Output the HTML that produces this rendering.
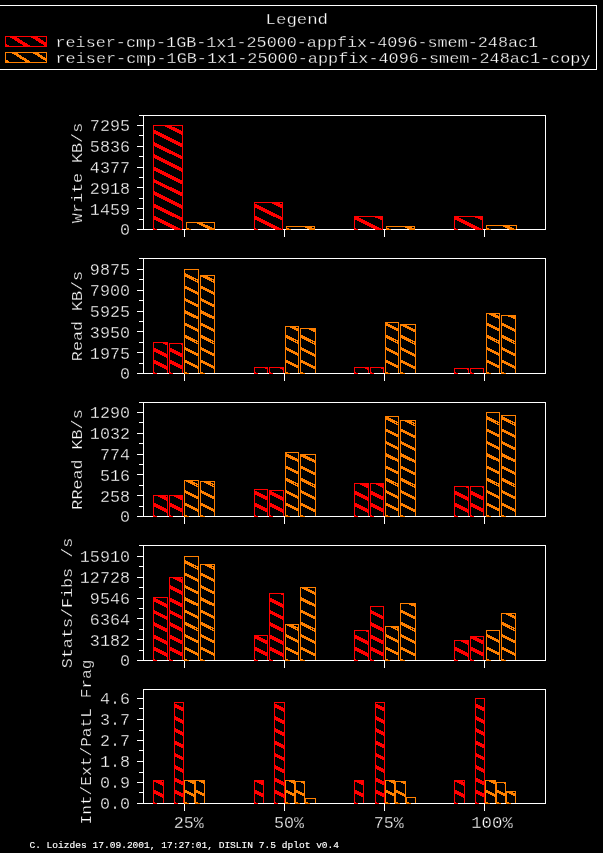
<!DOCTYPE html>
<html><head><meta charset="utf-8"><title>dplot</title>
<style>
html,body{margin:0;padding:0;background:#000;}
body{width:603px;height:853px;overflow:hidden;}
svg{display:block;}
text{font-family:"Liberation Mono", "DejaVu Sans Mono", monospace;fill:#fff;stroke:#000;stroke-width:0.3;}
.t{font-size:15.8px;}
.m{font-size:15.0px;stroke-width:0.3;}
.f{font-size:9.7px;stroke:#fff;stroke-width:0.15;}
.l{stroke:#fff;stroke-width:1;fill:none;shape-rendering:crispEdges;}
.r{stroke:#ff0000;fill:none;shape-rendering:crispEdges;}
.o{stroke:#ff8000;fill:none;shape-rendering:crispEdges;}
</style></head><body>
<svg width="603" height="853" viewBox="0 0 603 853">
<rect x="0" y="0" width="603" height="853" fill="#000"/>
<path class="l" d="M0 5.5H596.5V69.5H0"/>
<text class="m" x="296.8" y="23.5" text-anchor="middle" textLength="62.5" lengthAdjust="spacingAndGlyphs">Legend</text>
<text class="m" x="55.5" y="46.8" textLength="482.6" lengthAdjust="spacingAndGlyphs">reiser-cmp-1GB-1x1-25000-appfix-4096-smem-248ac1</text>
<text class="m" x="55.5" y="62.8" textLength="535" lengthAdjust="spacingAndGlyphs">reiser-cmp-1GB-1x1-25000-appfix-4096-smem-248ac1-copy</text>
<text class="t" x="130" y="131.3" text-anchor="end" textLength="40.12" lengthAdjust="spacingAndGlyphs">7295</text>
<text class="t" x="130" y="152.1" text-anchor="end" textLength="40.12" lengthAdjust="spacingAndGlyphs">5836</text>
<text class="t" x="130" y="172.9" text-anchor="end" textLength="40.12" lengthAdjust="spacingAndGlyphs">4377</text>
<text class="t" x="130" y="193.7" text-anchor="end" textLength="40.12" lengthAdjust="spacingAndGlyphs">2918</text>
<text class="t" x="130" y="214.5" text-anchor="end" textLength="40.12" lengthAdjust="spacingAndGlyphs">1459</text>
<text class="t" x="130" y="235.3" text-anchor="end" textLength="10.03" lengthAdjust="spacingAndGlyphs">0</text>
<text class="m" transform="translate(81.6 173) rotate(-90)" text-anchor="middle" textLength="100.3" lengthAdjust="spacingAndGlyphs">Write KB/s</text>
<text class="t" x="130" y="275.3" text-anchor="end" textLength="40.12" lengthAdjust="spacingAndGlyphs">9875</text>
<text class="t" x="130" y="296.1" text-anchor="end" textLength="40.12" lengthAdjust="spacingAndGlyphs">7900</text>
<text class="t" x="130" y="316.9" text-anchor="end" textLength="40.12" lengthAdjust="spacingAndGlyphs">5925</text>
<text class="t" x="130" y="337.7" text-anchor="end" textLength="40.12" lengthAdjust="spacingAndGlyphs">3950</text>
<text class="t" x="130" y="358.5" text-anchor="end" textLength="40.12" lengthAdjust="spacingAndGlyphs">1975</text>
<text class="t" x="130" y="379.3" text-anchor="end" textLength="10.03" lengthAdjust="spacingAndGlyphs">0</text>
<text class="m" transform="translate(81.6 316) rotate(-90)" text-anchor="middle" textLength="90.3" lengthAdjust="spacingAndGlyphs">Read KB/s</text>
<text class="t" x="130" y="418.3" text-anchor="end" textLength="40.12" lengthAdjust="spacingAndGlyphs">1290</text>
<text class="t" x="130" y="439.1" text-anchor="end" textLength="40.12" lengthAdjust="spacingAndGlyphs">1032</text>
<text class="t" x="130" y="459.9" text-anchor="end" textLength="30.09" lengthAdjust="spacingAndGlyphs">774</text>
<text class="t" x="130" y="480.7" text-anchor="end" textLength="30.09" lengthAdjust="spacingAndGlyphs">516</text>
<text class="t" x="130" y="501.5" text-anchor="end" textLength="30.09" lengthAdjust="spacingAndGlyphs">258</text>
<text class="t" x="130" y="522.3" text-anchor="end" textLength="10.03" lengthAdjust="spacingAndGlyphs">0</text>
<text class="m" transform="translate(81.6 459.5) rotate(-90)" text-anchor="middle" textLength="100.3" lengthAdjust="spacingAndGlyphs">RRead KB/s</text>
<text class="t" x="130" y="562.3" text-anchor="end" textLength="50.15" lengthAdjust="spacingAndGlyphs">15910</text>
<text class="t" x="130" y="583.1" text-anchor="end" textLength="50.15" lengthAdjust="spacingAndGlyphs">12728</text>
<text class="t" x="130" y="603.9" text-anchor="end" textLength="40.12" lengthAdjust="spacingAndGlyphs">9546</text>
<text class="t" x="130" y="624.7" text-anchor="end" textLength="40.12" lengthAdjust="spacingAndGlyphs">6364</text>
<text class="t" x="130" y="645.5" text-anchor="end" textLength="40.12" lengthAdjust="spacingAndGlyphs">3182</text>
<text class="t" x="130" y="666.3" text-anchor="end" textLength="10.03" lengthAdjust="spacingAndGlyphs">0</text>
<text class="m" transform="translate(71.6 603) rotate(-90)" text-anchor="middle" textLength="130.4" lengthAdjust="spacingAndGlyphs">Stats/Fibs /s</text>
<text class="t" x="130" y="704.3" text-anchor="end" textLength="30.09" lengthAdjust="spacingAndGlyphs">4.6</text>
<text class="t" x="130" y="725.3" text-anchor="end" textLength="30.09" lengthAdjust="spacingAndGlyphs">3.7</text>
<text class="t" x="130" y="746.3" text-anchor="end" textLength="30.09" lengthAdjust="spacingAndGlyphs">2.7</text>
<text class="t" x="130" y="767.3" text-anchor="end" textLength="30.09" lengthAdjust="spacingAndGlyphs">1.8</text>
<text class="t" x="130" y="788.3" text-anchor="end" textLength="30.09" lengthAdjust="spacingAndGlyphs">0.9</text>
<text class="t" x="130" y="809.3" text-anchor="end" textLength="30.09" lengthAdjust="spacingAndGlyphs">0.0</text>
<text class="m" transform="translate(91.4 742) rotate(-90)" text-anchor="middle" textLength="165" lengthAdjust="spacingAndGlyphs">Int/Ext/PatL Frag</text>
<rect class="r" x="5.5" y="36.5" width="41" height="10" stroke-width="1"/>
<rect class="o" x="5.5" y="52.5" width="41" height="10" stroke-width="1"/>
<rect class="r" x="153.5" y="125.5" width="29" height="104" stroke-width="1"/>
<rect class="o" x="186.5" y="222.5" width="28" height="7" stroke-width="1"/>
<rect class="r" x="254.5" y="202.5" width="28" height="27" stroke-width="1"/>
<rect class="o" x="286.5" y="226.5" width="28" height="3" stroke-width="1"/>
<rect class="r" x="354.5" y="216.5" width="28" height="13" stroke-width="1"/>
<rect class="o" x="386.5" y="226.5" width="28" height="3" stroke-width="1"/>
<rect class="r" x="454.5" y="216.5" width="28" height="13" stroke-width="1"/>
<rect class="o" x="486.5" y="225.5" width="30" height="4" stroke-width="1"/>
<rect class="r" x="153.5" y="342.5" width="14" height="31" stroke-width="1"/>
<rect class="r" x="169.5" y="343.5" width="13" height="30" stroke-width="1"/>
<rect class="o" x="184.5" y="269.5" width="14" height="104" stroke-width="1"/>
<rect class="o" x="200.5" y="275.5" width="14" height="98" stroke-width="1"/>
<rect class="r" x="254.5" y="367.5" width="13" height="6" stroke-width="1"/>
<rect class="r" x="269.5" y="367.5" width="14" height="6" stroke-width="1"/>
<rect class="o" x="285.5" y="326.5" width="13" height="47" stroke-width="1"/>
<rect class="o" x="300.5" y="328.5" width="15" height="45" stroke-width="1"/>
<rect class="r" x="354.5" y="367.5" width="14" height="6" stroke-width="1"/>
<rect class="r" x="370.5" y="367.5" width="13" height="6" stroke-width="1"/>
<rect class="o" x="385.5" y="322.5" width="13" height="51" stroke-width="1"/>
<rect class="o" x="400.5" y="324.5" width="15" height="49" stroke-width="1"/>
<rect class="r" x="454.5" y="368.5" width="14" height="5" stroke-width="1"/>
<rect class="r" x="470.5" y="368.5" width="13" height="5" stroke-width="1"/>
<rect class="o" x="486.5" y="313.5" width="13" height="60" stroke-width="1"/>
<rect class="o" x="501.5" y="315.5" width="14" height="58" stroke-width="1"/>
<rect class="r" x="153.5" y="495.5" width="14" height="21" stroke-width="1"/>
<rect class="r" x="169.5" y="495.5" width="13" height="21" stroke-width="1"/>
<rect class="o" x="184.5" y="480.5" width="14" height="36" stroke-width="1"/>
<rect class="o" x="200.5" y="481.5" width="14" height="35" stroke-width="1"/>
<rect class="r" x="254.5" y="489.5" width="13" height="27" stroke-width="1"/>
<rect class="r" x="269.5" y="490.5" width="14" height="26" stroke-width="1"/>
<rect class="o" x="285.5" y="452.5" width="13" height="64" stroke-width="1"/>
<rect class="o" x="300.5" y="454.5" width="15" height="62" stroke-width="1"/>
<rect class="r" x="354.5" y="483.5" width="14" height="33" stroke-width="1"/>
<rect class="r" x="370.5" y="483.5" width="13" height="33" stroke-width="1"/>
<rect class="o" x="385.5" y="416.5" width="13" height="100" stroke-width="1"/>
<rect class="o" x="400.5" y="420.5" width="15" height="96" stroke-width="1"/>
<rect class="r" x="454.5" y="486.5" width="14" height="30" stroke-width="1"/>
<rect class="r" x="470.5" y="486.5" width="13" height="30" stroke-width="1"/>
<rect class="o" x="486.5" y="412.5" width="13" height="104" stroke-width="1"/>
<rect class="o" x="501.5" y="415.5" width="14" height="101" stroke-width="1"/>
<rect class="r" x="153.5" y="597.5" width="14" height="63" stroke-width="1"/>
<rect class="r" x="169.5" y="577.5" width="13" height="83" stroke-width="1"/>
<rect class="o" x="184.5" y="556.5" width="14" height="104" stroke-width="1"/>
<rect class="o" x="200.5" y="564.5" width="14" height="96" stroke-width="1"/>
<rect class="r" x="254.5" y="635.5" width="13" height="25" stroke-width="1"/>
<rect class="r" x="269.5" y="593.5" width="14" height="67" stroke-width="1"/>
<rect class="o" x="285.5" y="624.5" width="13" height="36" stroke-width="1"/>
<rect class="o" x="300.5" y="587.5" width="15" height="73" stroke-width="1"/>
<rect class="r" x="354.5" y="630.5" width="14" height="30" stroke-width="1"/>
<rect class="r" x="370.5" y="606.5" width="13" height="54" stroke-width="1"/>
<rect class="o" x="385.5" y="626.5" width="13" height="34" stroke-width="1"/>
<rect class="o" x="400.5" y="603.5" width="15" height="57" stroke-width="1"/>
<rect class="r" x="454.5" y="640.5" width="14" height="20" stroke-width="1"/>
<rect class="r" x="470.5" y="636.5" width="13" height="24" stroke-width="1"/>
<rect class="o" x="486.5" y="630.5" width="13" height="30" stroke-width="1"/>
<rect class="o" x="501.5" y="613.5" width="14" height="47" stroke-width="1"/>
<rect class="r" x="153.5" y="780.5" width="10" height="23" stroke-width="1"/>
<rect class="r" x="174.5" y="702.5" width="9" height="101" stroke-width="1"/>
<rect class="o" x="184.5" y="780.5" width="10" height="23" stroke-width="1"/>
<rect class="o" x="195.5" y="780.5" width="9" height="23" stroke-width="1"/>
<rect class="r" x="254.5" y="780.5" width="9" height="23" stroke-width="1"/>
<rect class="r" x="274.5" y="702.5" width="10" height="101" stroke-width="1"/>
<rect class="o" x="285.5" y="780.5" width="9" height="23" stroke-width="1"/>
<rect class="o" x="295.5" y="781.5" width="9" height="22" stroke-width="1"/>
<rect class="o" x="305.5" y="798.5" width="10" height="5" stroke-width="1"/>
<rect class="r" x="354.5" y="780.5" width="9" height="23" stroke-width="1"/>
<rect class="r" x="375.5" y="702.5" width="9" height="101" stroke-width="1"/>
<rect class="o" x="385.5" y="780.5" width="9" height="23" stroke-width="1"/>
<rect class="o" x="395.5" y="781.5" width="10" height="22" stroke-width="1"/>
<rect class="o" x="406.5" y="797.5" width="9" height="6" stroke-width="1"/>
<rect class="r" x="454.5" y="780.5" width="10" height="23" stroke-width="1"/>
<rect class="r" x="475.5" y="698.5" width="9" height="105" stroke-width="1"/>
<rect class="o" x="485.5" y="780.5" width="10" height="23" stroke-width="1"/>
<rect class="o" x="496.5" y="782.5" width="9" height="21" stroke-width="1"/>
<rect class="o" x="506.5" y="791.5" width="9" height="12" stroke-width="1"/>
<path class="l" d="M143.5 115.5 H545.5 V229.5 H143.5 ZM137 229.5H143M139 219.5H143M137 208.5H143M139 198.5H143M137 187.5H143M139 177.5H143M137 167.5H143M139 156.5H143M137 146.5H143M139 135.5H143M137 125.5H143M139 115.5H143M184.5 230V237M284.5 230V237M384.5 230V237M484.5 230V237"/>
<path class="l" d="M143.5 258.5 H545.5 V373.5 H143.5 ZM137 373.5H143M139 363.5H143M137 352.5H143M139 342.5H143M137 331.5H143M139 321.5H143M137 311.5H143M139 300.5H143M137 290.5H143M139 279.5H143M137 269.5H143M139 258.5H143M184.5 374V381M284.5 374V381M384.5 374V381M484.5 374V381"/>
<path class="l" d="M143.5 402.5 H545.5 V516.5 H143.5 ZM137 516.5H143M139 506.5H143M137 495.5H143M139 485.5H143M137 474.5H143M139 464.5H143M137 454.5H143M139 443.5H143M137 433.5H143M139 422.5H143M137 412.5H143M139 402.5H143M184.5 517V524M284.5 517V524M384.5 517V524M484.5 517V524"/>
<path class="l" d="M143.5 545.5 H545.5 V660.5 H143.5 ZM137 660.5H143M139 650.5H143M137 639.5H143M139 629.5H143M137 618.5H143M139 608.5H143M137 598.5H143M139 587.5H143M137 577.5H143M139 566.5H143M137 556.5H143M139 545.5H143M184.5 661V668M284.5 661V668M384.5 661V668M484.5 661V668"/>
<path class="l" d="M143.5 689.5 H545.5 V803.5 H143.5 ZM137 803.5H143M139 792.5H143M137 782.5H143M139 772.5H143M137 761.5H143M139 750.5H143M137 740.5H143M139 730.5H143M137 719.5H143M139 708.5H143M137 698.5H143M184.5 804V811M284.5 804V811M384.5 804V811M484.5 804V811"/>
<clipPath id="c1"><rect x="5" y="36" width="42" height="11"/></clipPath><g clip-path="url(#c1)" class="r"><path d="M-12.13 34.50L10.45 48.50M8.87 34.50L31.45 48.50M29.87 34.50L52.45 48.50" stroke-width="3.5"/></g>
<clipPath id="c2"><rect x="5" y="52" width="42" height="11"/></clipPath><g clip-path="url(#c2)" class="o"><path d="M-12.13 48.92L10.45 62.92M-12.13 50.52L10.45 64.53M8.87 48.92L31.45 62.92M8.87 50.52L31.45 64.53M29.87 48.92L52.45 62.92M29.87 50.52L52.45 64.53" stroke-width="1.39"/></g>
<clipPath id="c3"><rect x="153" y="125" width="30" height="105"/></clipPath><g clip-path="url(#c3)" class="r"><path d="M152 229.00L184 244.84M152 216.70L184 232.54M152 204.41L184 220.25M152 192.10L184 207.94M152 179.81L184 195.65M152 167.50L184 183.34M152 155.20L184 171.04M152 142.90L184 158.74M152 130.60L184 146.44M152 118.30L184 134.15" stroke-width="3.5"/></g>
<clipPath id="c4"><rect x="186" y="222" width="29" height="8"/></clipPath><g clip-path="url(#c4)" class="o"><path d="M185 227.43L216 242.78M185 229.03L216 244.38M185 215.13L216 230.47M185 216.73L216 232.07M185 202.83L216 218.18M185 204.43L216 219.78" stroke-width="1.39"/></g>
<clipPath id="c5"><rect x="254" y="202" width="29" height="28"/></clipPath><g clip-path="url(#c5)" class="r"><path d="M253 229.00L284 244.35M253 216.70L284 232.05M253 204.41L284 219.75M253 192.10L284 207.45" stroke-width="3.5"/></g>
<clipPath id="c6"><rect x="286" y="226" width="29" height="4"/></clipPath><g clip-path="url(#c6)" class="o"><path d="M285 227.43L316 242.78M285 229.03L316 244.38M285 215.13L316 230.47M285 216.73L316 232.07" stroke-width="1.39"/></g>
<clipPath id="c7"><rect x="354" y="216" width="29" height="14"/></clipPath><g clip-path="url(#c7)" class="r"><path d="M353 229.00L384 244.35M353 216.70L384 232.05M353 204.41L384 219.75" stroke-width="3.5"/></g>
<clipPath id="c8"><rect x="386" y="226" width="29" height="4"/></clipPath><g clip-path="url(#c8)" class="o"><path d="M385 227.43L416 242.78M385 229.03L416 244.38M385 215.13L416 230.47M385 216.73L416 232.07" stroke-width="1.39"/></g>
<clipPath id="c9"><rect x="454" y="216" width="29" height="14"/></clipPath><g clip-path="url(#c9)" class="r"><path d="M453 229.00L484 244.35M453 216.70L484 232.05M453 204.41L484 219.75" stroke-width="3.5"/></g>
<clipPath id="c10"><rect x="486" y="225" width="31" height="5"/></clipPath><g clip-path="url(#c10)" class="o"><path d="M485 227.43L518 243.77M485 229.03L518 245.37M485 215.13L518 231.47M485 216.73L518 233.06" stroke-width="1.39"/></g>
<clipPath id="c11"><rect x="153" y="342" width="15" height="32"/></clipPath><g clip-path="url(#c11)" class="r"><path d="M152 373.00L169 381.42M152 360.70L169 369.12M152 348.40L169 356.82M152 336.11L169 344.52" stroke-width="3.5"/></g>
<clipPath id="c12"><rect x="169" y="343" width="14" height="31"/></clipPath><g clip-path="url(#c12)" class="r"><path d="M168 373.00L184 380.93M168 360.70L184 368.62M168 348.40L184 356.32M168 336.11L184 344.03" stroke-width="3.5"/></g>
<clipPath id="c13"><rect x="184" y="269" width="15" height="105"/></clipPath><g clip-path="url(#c13)" class="o"><path d="M183 371.43L200 379.85M183 373.03L200 381.44M183 359.13L200 367.55M183 360.73L200 369.14M183 346.83L200 355.25M183 348.43L200 356.84M183 334.53L200 342.95M183 336.13L200 344.55M183 322.23L200 330.65M183 323.83L200 332.25M183 309.93L200 318.35M183 311.53L200 319.94M183 297.63L200 306.05M183 299.23L200 307.64M183 285.33L200 293.75M183 286.93L200 295.34M183 273.03L200 281.45M183 274.63L200 283.05M183 260.73L200 269.15M183 262.33L200 270.75" stroke-width="1.39"/></g>
<clipPath id="c14"><rect x="200" y="275" width="15" height="99"/></clipPath><g clip-path="url(#c14)" class="o"><path d="M199 371.43L216 379.85M199 373.03L216 381.44M199 359.13L216 367.55M199 360.73L216 369.14M199 346.83L216 355.25M199 348.43L216 356.84M199 334.53L216 342.95M199 336.13L216 344.55M199 322.23L216 330.65M199 323.83L216 332.25M199 309.93L216 318.35M199 311.53L216 319.94M199 297.63L216 306.05M199 299.23L216 307.64M199 285.33L216 293.75M199 286.93L216 295.34M199 273.03L216 281.45M199 274.63L216 283.05" stroke-width="1.39"/></g>
<clipPath id="c15"><rect x="254" y="367" width="14" height="7"/></clipPath><g clip-path="url(#c15)" class="r"><path d="M253 373.00L269 380.93M253 360.70L269 368.62" stroke-width="3.5"/></g>
<clipPath id="c16"><rect x="269" y="367" width="15" height="7"/></clipPath><g clip-path="url(#c16)" class="r"><path d="M268 373.00L285 381.42M268 360.70L285 369.12" stroke-width="3.5"/></g>
<clipPath id="c17"><rect x="285" y="326" width="14" height="48"/></clipPath><g clip-path="url(#c17)" class="o"><path d="M284 371.43L300 379.35M284 373.03L300 380.95M284 359.13L300 367.05M284 360.73L300 368.65M284 346.83L300 354.75M284 348.43L300 356.35M284 334.53L300 342.45M284 336.13L300 344.05M284 322.23L300 330.15M284 323.83L300 331.75" stroke-width="1.39"/></g>
<clipPath id="c18"><rect x="300" y="328" width="16" height="46"/></clipPath><g clip-path="url(#c18)" class="o"><path d="M299 371.43L317 380.34M299 373.03L317 381.94M299 359.13L317 368.04M299 360.73L317 369.64M299 346.83L317 355.74M299 348.43L317 357.34M299 334.53L317 343.44M299 336.13L317 345.04M299 322.23L317 331.14M299 323.83L317 332.74" stroke-width="1.39"/></g>
<clipPath id="c19"><rect x="354" y="367" width="15" height="7"/></clipPath><g clip-path="url(#c19)" class="r"><path d="M353 373.00L370 381.42M353 360.70L370 369.12" stroke-width="3.5"/></g>
<clipPath id="c20"><rect x="370" y="367" width="14" height="7"/></clipPath><g clip-path="url(#c20)" class="r"><path d="M369 373.00L385 380.93M369 360.70L385 368.62" stroke-width="3.5"/></g>
<clipPath id="c21"><rect x="385" y="322" width="14" height="52"/></clipPath><g clip-path="url(#c21)" class="o"><path d="M384 371.43L400 379.35M384 373.03L400 380.95M384 359.13L400 367.05M384 360.73L400 368.65M384 346.83L400 354.75M384 348.43L400 356.35M384 334.53L400 342.45M384 336.13L400 344.05M384 322.23L400 330.15M384 323.83L400 331.75" stroke-width="1.39"/></g>
<clipPath id="c22"><rect x="400" y="324" width="16" height="50"/></clipPath><g clip-path="url(#c22)" class="o"><path d="M399 371.43L417 380.34M399 373.03L417 381.94M399 359.13L417 368.04M399 360.73L417 369.64M399 346.83L417 355.74M399 348.43L417 357.34M399 334.53L417 343.44M399 336.13L417 345.04M399 322.23L417 331.14M399 323.83L417 332.74" stroke-width="1.39"/></g>
<clipPath id="c23"><rect x="454" y="368" width="15" height="6"/></clipPath><g clip-path="url(#c23)" class="r"><path d="M453 373.00L470 381.42M453 360.70L470 369.12" stroke-width="3.5"/></g>
<clipPath id="c24"><rect x="470" y="368" width="14" height="6"/></clipPath><g clip-path="url(#c24)" class="r"><path d="M469 373.00L485 380.93M469 360.70L485 368.62" stroke-width="3.5"/></g>
<clipPath id="c25"><rect x="486" y="313" width="14" height="61"/></clipPath><g clip-path="url(#c25)" class="o"><path d="M485 371.43L501 379.35M485 373.03L501 380.95M485 359.13L501 367.05M485 360.73L501 368.65M485 346.83L501 354.75M485 348.43L501 356.35M485 334.53L501 342.45M485 336.13L501 344.05M485 322.23L501 330.15M485 323.83L501 331.75M485 309.93L501 317.85M485 311.53L501 319.45" stroke-width="1.39"/></g>
<clipPath id="c26"><rect x="501" y="315" width="15" height="59"/></clipPath><g clip-path="url(#c26)" class="o"><path d="M500 371.43L517 379.85M500 373.03L517 381.44M500 359.13L517 367.55M500 360.73L517 369.14M500 346.83L517 355.25M500 348.43L517 356.84M500 334.53L517 342.95M500 336.13L517 344.55M500 322.23L517 330.65M500 323.83L517 332.25M500 309.93L517 318.35M500 311.53L517 319.94" stroke-width="1.39"/></g>
<clipPath id="c27"><rect x="153" y="495" width="15" height="22"/></clipPath><g clip-path="url(#c27)" class="r"><path d="M152 516.00L169 524.42M152 503.70L169 512.12M152 491.40L169 499.82" stroke-width="3.5"/></g>
<clipPath id="c28"><rect x="169" y="495" width="14" height="22"/></clipPath><g clip-path="url(#c28)" class="r"><path d="M168 516.00L184 523.92M168 503.70L184 511.62M168 491.40L184 499.32" stroke-width="3.5"/></g>
<clipPath id="c29"><rect x="184" y="480" width="15" height="37"/></clipPath><g clip-path="url(#c29)" class="o"><path d="M183 514.43L200 522.84M183 516.03L200 524.44M183 502.13L200 510.55M183 503.73L200 512.14M183 489.83L200 498.25M183 491.43L200 499.84M183 477.53L200 485.95M183 479.13L200 487.55" stroke-width="1.39"/></g>
<clipPath id="c30"><rect x="200" y="481" width="15" height="36"/></clipPath><g clip-path="url(#c30)" class="o"><path d="M199 514.43L216 522.84M199 516.03L216 524.44M199 502.13L216 510.55M199 503.73L216 512.14M199 489.83L216 498.25M199 491.43L216 499.84M199 477.53L216 485.95M199 479.13L216 487.55" stroke-width="1.39"/></g>
<clipPath id="c31"><rect x="254" y="489" width="14" height="28"/></clipPath><g clip-path="url(#c31)" class="r"><path d="M253 516.00L269 523.92M253 503.70L269 511.62M253 491.40L269 499.32M253 479.11L269 487.03" stroke-width="3.5"/></g>
<clipPath id="c32"><rect x="269" y="490" width="15" height="27"/></clipPath><g clip-path="url(#c32)" class="r"><path d="M268 516.00L285 524.42M268 503.70L285 512.12M268 491.40L285 499.82M268 479.11L285 487.52" stroke-width="3.5"/></g>
<clipPath id="c33"><rect x="285" y="452" width="14" height="65"/></clipPath><g clip-path="url(#c33)" class="o"><path d="M284 514.43L300 522.35M284 516.03L300 523.95M284 502.13L300 510.05M284 503.73L300 511.65M284 489.83L300 497.75M284 491.43L300 499.35M284 477.53L300 485.45M284 479.13L300 487.05M284 465.23L300 473.15M284 466.83L300 474.75M284 452.93L300 460.85M284 454.53L300 462.45M284 440.63L300 448.55M284 442.23L300 450.15" stroke-width="1.39"/></g>
<clipPath id="c34"><rect x="300" y="454" width="16" height="63"/></clipPath><g clip-path="url(#c34)" class="o"><path d="M299 514.43L317 523.34M299 516.03L317 524.94M299 502.13L317 511.04M299 503.73L317 512.64M299 489.83L317 498.74M299 491.43L317 500.34M299 477.53L317 486.44M299 479.13L317 488.04M299 465.23L317 474.14M299 466.83L317 475.74M299 452.93L317 461.84M299 454.53L317 463.44" stroke-width="1.39"/></g>
<clipPath id="c35"><rect x="354" y="483" width="15" height="34"/></clipPath><g clip-path="url(#c35)" class="r"><path d="M353 516.00L370 524.42M353 503.70L370 512.12M353 491.40L370 499.82M353 479.11L370 487.52" stroke-width="3.5"/></g>
<clipPath id="c36"><rect x="370" y="483" width="14" height="34"/></clipPath><g clip-path="url(#c36)" class="r"><path d="M369 516.00L385 523.92M369 503.70L385 511.62M369 491.40L385 499.32M369 479.11L385 487.03" stroke-width="3.5"/></g>
<clipPath id="c37"><rect x="385" y="416" width="14" height="101"/></clipPath><g clip-path="url(#c37)" class="o"><path d="M384 514.43L400 522.35M384 516.03L400 523.95M384 502.13L400 510.05M384 503.73L400 511.65M384 489.83L400 497.75M384 491.43L400 499.35M384 477.53L400 485.45M384 479.13L400 487.05M384 465.23L400 473.15M384 466.83L400 474.75M384 452.93L400 460.85M384 454.53L400 462.45M384 440.63L400 448.55M384 442.23L400 450.15M384 428.33L400 436.25M384 429.93L400 437.85M384 416.03L400 423.95M384 417.63L400 425.55" stroke-width="1.39"/></g>
<clipPath id="c38"><rect x="400" y="420" width="16" height="97"/></clipPath><g clip-path="url(#c38)" class="o"><path d="M399 514.43L417 523.34M399 516.03L417 524.94M399 502.13L417 511.04M399 503.73L417 512.64M399 489.83L417 498.74M399 491.43L417 500.34M399 477.53L417 486.44M399 479.13L417 488.04M399 465.23L417 474.14M399 466.83L417 475.74M399 452.93L417 461.84M399 454.53L417 463.44M399 440.63L417 449.54M399 442.23L417 451.14M399 428.33L417 437.24M399 429.93L417 438.84M399 416.03L417 424.94M399 417.63L417 426.54" stroke-width="1.39"/></g>
<clipPath id="c39"><rect x="454" y="486" width="15" height="31"/></clipPath><g clip-path="url(#c39)" class="r"><path d="M453 516.00L470 524.42M453 503.70L470 512.12M453 491.40L470 499.82M453 479.11L470 487.52" stroke-width="3.5"/></g>
<clipPath id="c40"><rect x="470" y="486" width="14" height="31"/></clipPath><g clip-path="url(#c40)" class="r"><path d="M469 516.00L485 523.92M469 503.70L485 511.62M469 491.40L485 499.32M469 479.11L485 487.03" stroke-width="3.5"/></g>
<clipPath id="c41"><rect x="486" y="412" width="14" height="105"/></clipPath><g clip-path="url(#c41)" class="o"><path d="M485 514.43L501 522.35M485 516.03L501 523.95M485 502.13L501 510.05M485 503.73L501 511.65M485 489.83L501 497.75M485 491.43L501 499.35M485 477.53L501 485.45M485 479.13L501 487.05M485 465.23L501 473.15M485 466.83L501 474.75M485 452.93L501 460.85M485 454.53L501 462.45M485 440.63L501 448.55M485 442.23L501 450.15M485 428.33L501 436.25M485 429.93L501 437.85M485 416.03L501 423.95M485 417.63L501 425.55M485 403.73L501 411.65M485 405.33L501 413.25" stroke-width="1.39"/></g>
<clipPath id="c42"><rect x="501" y="415" width="15" height="102"/></clipPath><g clip-path="url(#c42)" class="o"><path d="M500 514.43L517 522.84M500 516.03L517 524.44M500 502.13L517 510.55M500 503.73L517 512.14M500 489.83L517 498.25M500 491.43L517 499.84M500 477.53L517 485.95M500 479.13L517 487.55M500 465.23L517 473.65M500 466.83L517 475.25M500 452.93L517 461.35M500 454.53L517 462.94M500 440.63L517 449.05M500 442.23L517 450.64M500 428.33L517 436.75M500 429.93L517 438.34M500 416.03L517 424.45M500 417.63L517 426.05M500 403.73L517 412.15M500 405.33L517 413.75" stroke-width="1.39"/></g>
<clipPath id="c43"><rect x="153" y="597" width="15" height="64"/></clipPath><g clip-path="url(#c43)" class="r"><path d="M152 660.00L169 668.42M152 647.71L169 656.12M152 635.40L169 643.82M152 623.11L169 631.52M152 610.80L169 619.22M152 598.50L169 606.92M152 586.21L169 594.62" stroke-width="3.5"/></g>
<clipPath id="c44"><rect x="169" y="577" width="14" height="84"/></clipPath><g clip-path="url(#c44)" class="r"><path d="M168 660.00L184 667.92M168 647.71L184 655.62M168 635.40L184 643.32M168 623.11L184 631.02M168 610.80L184 618.72M168 598.50L184 606.42M168 586.21L184 594.12M168 573.90L184 581.82" stroke-width="3.5"/></g>
<clipPath id="c45"><rect x="184" y="556" width="15" height="105"/></clipPath><g clip-path="url(#c45)" class="o"><path d="M183 658.43L200 666.84M183 660.03L200 668.44M183 646.13L200 654.54M183 647.73L200 656.14M183 633.83L200 642.24M183 635.43L200 643.84M183 621.53L200 629.94M183 623.13L200 631.54M183 609.23L200 617.64M183 610.83L200 619.24M183 596.93L200 605.34M183 598.53L200 606.94M183 584.63L200 593.04M183 586.23L200 594.64M183 572.33L200 580.74M183 573.93L200 582.34M183 560.03L200 568.44M183 561.63L200 570.04M183 547.73L200 556.14M183 549.33L200 557.74" stroke-width="1.39"/></g>
<clipPath id="c46"><rect x="200" y="564" width="15" height="97"/></clipPath><g clip-path="url(#c46)" class="o"><path d="M199 658.43L216 666.84M199 660.03L216 668.44M199 646.13L216 654.54M199 647.73L216 656.14M199 633.83L216 642.24M199 635.43L216 643.84M199 621.53L216 629.94M199 623.13L216 631.54M199 609.23L216 617.64M199 610.83L216 619.24M199 596.93L216 605.34M199 598.53L216 606.94M199 584.63L216 593.04M199 586.23L216 594.64M199 572.33L216 580.74M199 573.93L216 582.34M199 560.03L216 568.44M199 561.63L216 570.04" stroke-width="1.39"/></g>
<clipPath id="c47"><rect x="254" y="635" width="14" height="26"/></clipPath><g clip-path="url(#c47)" class="r"><path d="M253 660.00L269 667.92M253 647.71L269 655.62M253 635.40L269 643.32" stroke-width="3.5"/></g>
<clipPath id="c48"><rect x="269" y="593" width="15" height="68"/></clipPath><g clip-path="url(#c48)" class="r"><path d="M268 660.00L285 668.42M268 647.71L285 656.12M268 635.40L285 643.82M268 623.11L285 631.52M268 610.80L285 619.22M268 598.50L285 606.92M268 586.21L285 594.62" stroke-width="3.5"/></g>
<clipPath id="c49"><rect x="285" y="624" width="14" height="37"/></clipPath><g clip-path="url(#c49)" class="o"><path d="M284 658.43L300 666.35M284 660.03L300 667.95M284 646.13L300 654.05M284 647.73L300 655.65M284 633.83L300 641.75M284 635.43L300 643.35M284 621.53L300 629.45M284 623.13L300 631.05" stroke-width="1.39"/></g>
<clipPath id="c50"><rect x="300" y="587" width="16" height="74"/></clipPath><g clip-path="url(#c50)" class="o"><path d="M299 658.43L317 667.34M299 660.03L317 668.94M299 646.13L317 655.04M299 647.73L317 656.64M299 633.83L317 642.74M299 635.43L317 644.34M299 621.53L317 630.44M299 623.13L317 632.04M299 609.23L317 618.14M299 610.83L317 619.74M299 596.93L317 605.84M299 598.53L317 607.44M299 584.63L317 593.54M299 586.23L317 595.14" stroke-width="1.39"/></g>
<clipPath id="c51"><rect x="354" y="630" width="15" height="31"/></clipPath><g clip-path="url(#c51)" class="r"><path d="M353 660.00L370 668.42M353 647.71L370 656.12M353 635.40L370 643.82M353 623.11L370 631.52" stroke-width="3.5"/></g>
<clipPath id="c52"><rect x="370" y="606" width="14" height="55"/></clipPath><g clip-path="url(#c52)" class="r"><path d="M369 660.00L385 667.92M369 647.71L385 655.62M369 635.40L385 643.32M369 623.11L385 631.02M369 610.80L385 618.72M369 598.50L385 606.42" stroke-width="3.5"/></g>
<clipPath id="c53"><rect x="385" y="626" width="14" height="35"/></clipPath><g clip-path="url(#c53)" class="o"><path d="M384 658.43L400 666.35M384 660.03L400 667.95M384 646.13L400 654.05M384 647.73L400 655.65M384 633.83L400 641.75M384 635.43L400 643.35M384 621.53L400 629.45M384 623.13L400 631.05" stroke-width="1.39"/></g>
<clipPath id="c54"><rect x="400" y="603" width="16" height="58"/></clipPath><g clip-path="url(#c54)" class="o"><path d="M399 658.43L417 667.34M399 660.03L417 668.94M399 646.13L417 655.04M399 647.73L417 656.64M399 633.83L417 642.74M399 635.43L417 644.34M399 621.53L417 630.44M399 623.13L417 632.04M399 609.23L417 618.14M399 610.83L417 619.74M399 596.93L417 605.84M399 598.53L417 607.44" stroke-width="1.39"/></g>
<clipPath id="c55"><rect x="454" y="640" width="15" height="21"/></clipPath><g clip-path="url(#c55)" class="r"><path d="M453 660.00L470 668.42M453 647.71L470 656.12M453 635.40L470 643.82" stroke-width="3.5"/></g>
<clipPath id="c56"><rect x="470" y="636" width="14" height="25"/></clipPath><g clip-path="url(#c56)" class="r"><path d="M469 660.00L485 667.92M469 647.71L485 655.62M469 635.40L485 643.32" stroke-width="3.5"/></g>
<clipPath id="c57"><rect x="486" y="630" width="14" height="31"/></clipPath><g clip-path="url(#c57)" class="o"><path d="M485 658.43L501 666.35M485 660.03L501 667.95M485 646.13L501 654.05M485 647.73L501 655.65M485 633.83L501 641.75M485 635.43L501 643.35M485 621.53L501 629.45M485 623.13L501 631.05" stroke-width="1.39"/></g>
<clipPath id="c58"><rect x="501" y="613" width="15" height="48"/></clipPath><g clip-path="url(#c58)" class="o"><path d="M500 658.43L517 666.84M500 660.03L517 668.44M500 646.13L517 654.54M500 647.73L517 656.14M500 633.83L517 642.24M500 635.43L517 643.84M500 621.53L517 629.94M500 623.13L517 631.54M500 609.23L517 617.64M500 610.83L517 619.24" stroke-width="1.39"/></g>
<clipPath id="c59"><rect x="153" y="780" width="11" height="24"/></clipPath><g clip-path="url(#c59)" class="r"><path d="M152 803.00L165 809.44M152 790.71L165 797.14M152 778.40L165 784.84" stroke-width="3.5"/></g>
<clipPath id="c60"><rect x="174" y="702" width="10" height="102"/></clipPath><g clip-path="url(#c60)" class="r"><path d="M173 803.00L185 808.95M173 790.71L185 796.65M173 778.40L185 784.35M173 766.11L185 772.05M173 753.80L185 759.75M173 741.50L185 747.45M173 729.21L185 735.15M173 716.90L185 722.85M173 704.61L185 710.55" stroke-width="3.5"/></g>
<clipPath id="c61"><rect x="184" y="780" width="11" height="24"/></clipPath><g clip-path="url(#c61)" class="o"><path d="M183 801.43L196 807.87M183 803.03L196 809.47M183 789.13L196 795.57M183 790.73L196 797.17M183 776.83L196 783.26M183 778.43L196 784.87" stroke-width="1.39"/></g>
<clipPath id="c62"><rect x="195" y="780" width="10" height="24"/></clipPath><g clip-path="url(#c62)" class="o"><path d="M194 801.43L206 807.37M194 803.03L206 808.97M194 789.13L206 795.07M194 790.73L206 796.67M194 776.83L206 782.77M194 778.43L206 784.37" stroke-width="1.39"/></g>
<clipPath id="c63"><rect x="254" y="780" width="10" height="24"/></clipPath><g clip-path="url(#c63)" class="r"><path d="M253 803.00L265 808.95M253 790.71L265 796.65M253 778.40L265 784.35" stroke-width="3.5"/></g>
<clipPath id="c64"><rect x="274" y="702" width="11" height="102"/></clipPath><g clip-path="url(#c64)" class="r"><path d="M273 803.00L286 809.44M273 790.71L286 797.14M273 778.40L286 784.84M273 766.11L286 772.54M273 753.80L286 760.24M273 741.50L286 747.94M273 729.21L286 735.64M273 716.90L286 723.34M273 704.61L286 711.04" stroke-width="3.5"/></g>
<clipPath id="c65"><rect x="285" y="780" width="10" height="24"/></clipPath><g clip-path="url(#c65)" class="o"><path d="M284 801.43L296 807.37M284 803.03L296 808.97M284 789.13L296 795.07M284 790.73L296 796.67M284 776.83L296 782.77M284 778.43L296 784.37" stroke-width="1.39"/></g>
<clipPath id="c66"><rect x="295" y="781" width="10" height="23"/></clipPath><g clip-path="url(#c66)" class="o"><path d="M294 801.43L306 807.37M294 803.03L306 808.97M294 789.13L306 795.07M294 790.73L306 796.67M294 776.83L306 782.77M294 778.43L306 784.37" stroke-width="1.39"/></g>
<clipPath id="c67"><rect x="305" y="798" width="11" height="6"/></clipPath><g clip-path="url(#c67)" class="o"><path d="M304 801.43L317 807.87M304 803.03L317 809.47M304 789.13L317 795.57M304 790.73L317 797.17" stroke-width="1.39"/></g>
<clipPath id="c68"><rect x="354" y="780" width="10" height="24"/></clipPath><g clip-path="url(#c68)" class="r"><path d="M353 803.00L365 808.95M353 790.71L365 796.65M353 778.40L365 784.35" stroke-width="3.5"/></g>
<clipPath id="c69"><rect x="375" y="702" width="10" height="102"/></clipPath><g clip-path="url(#c69)" class="r"><path d="M374 803.00L386 808.95M374 790.71L386 796.65M374 778.40L386 784.35M374 766.11L386 772.05M374 753.80L386 759.75M374 741.50L386 747.45M374 729.21L386 735.15M374 716.90L386 722.85M374 704.61L386 710.55" stroke-width="3.5"/></g>
<clipPath id="c70"><rect x="385" y="780" width="10" height="24"/></clipPath><g clip-path="url(#c70)" class="o"><path d="M384 801.43L396 807.37M384 803.03L396 808.97M384 789.13L396 795.07M384 790.73L396 796.67M384 776.83L396 782.77M384 778.43L396 784.37" stroke-width="1.39"/></g>
<clipPath id="c71"><rect x="395" y="781" width="11" height="23"/></clipPath><g clip-path="url(#c71)" class="o"><path d="M394 801.43L407 807.87M394 803.03L407 809.47M394 789.13L407 795.57M394 790.73L407 797.17M394 776.83L407 783.26M394 778.43L407 784.87" stroke-width="1.39"/></g>
<clipPath id="c72"><rect x="406" y="797" width="10" height="7"/></clipPath><g clip-path="url(#c72)" class="o"><path d="M405 801.43L417 807.37M405 803.03L417 808.97M405 789.13L417 795.07M405 790.73L417 796.67" stroke-width="1.39"/></g>
<clipPath id="c73"><rect x="454" y="780" width="11" height="24"/></clipPath><g clip-path="url(#c73)" class="r"><path d="M453 803.00L466 809.44M453 790.71L466 797.14M453 778.40L466 784.84" stroke-width="3.5"/></g>
<clipPath id="c74"><rect x="475" y="698" width="10" height="106"/></clipPath><g clip-path="url(#c74)" class="r"><path d="M474 803.00L486 808.95M474 790.71L486 796.65M474 778.40L486 784.35M474 766.11L486 772.05M474 753.80L486 759.75M474 741.50L486 747.45M474 729.21L486 735.15M474 716.90L486 722.85M474 704.61L486 710.55M474 692.30L486 698.25" stroke-width="3.5"/></g>
<clipPath id="c75"><rect x="485" y="780" width="11" height="24"/></clipPath><g clip-path="url(#c75)" class="o"><path d="M484 801.43L497 807.87M484 803.03L497 809.47M484 789.13L497 795.57M484 790.73L497 797.17M484 776.83L497 783.26M484 778.43L497 784.87" stroke-width="1.39"/></g>
<clipPath id="c76"><rect x="496" y="782" width="10" height="22"/></clipPath><g clip-path="url(#c76)" class="o"><path d="M495 801.43L507 807.37M495 803.03L507 808.97M495 789.13L507 795.07M495 790.73L507 796.67M495 776.83L507 782.77M495 778.43L507 784.37" stroke-width="1.39"/></g>
<clipPath id="c77"><rect x="506" y="791" width="10" height="13"/></clipPath><g clip-path="url(#c77)" class="o"><path d="M505 801.43L517 807.37M505 803.03L517 808.97M505 789.13L517 795.07M505 790.73L517 796.67" stroke-width="1.39"/></g>
<text class="t" x="173.8" y="828" textLength="30.1" lengthAdjust="spacingAndGlyphs">25%</text>
<text class="t" x="274" y="828" textLength="30.1" lengthAdjust="spacingAndGlyphs">50%</text>
<text class="t" x="373.8" y="828" textLength="30.1" lengthAdjust="spacingAndGlyphs">75%</text>
<text class="t" x="471.2" y="828" textLength="41.6" lengthAdjust="spacingAndGlyphs">100%</text>
<text class="f"  x="29.4" y="848" textLength="309.7" lengthAdjust="spacingAndGlyphs">C. Loizdes 17.09.2001, 17:27:01, DISLIN 7.5 dplot v0.4</text>
</svg>
</body></html>
